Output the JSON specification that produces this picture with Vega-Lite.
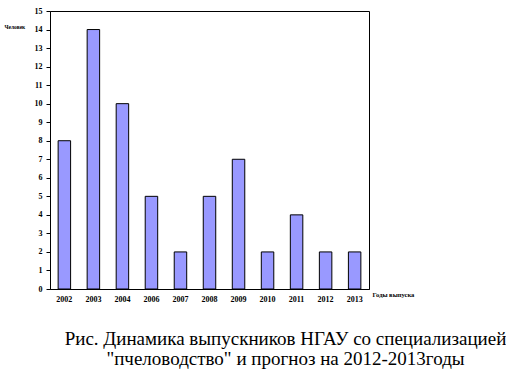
{
  "$schema": "https://vega.github.io/schema/vega-lite/v6.json",
  "autosize": "none",
  "width": 319,
  "height": 278,
  "padding": {"left": 50, "top": 11, "right": 137, "bottom": 103},
  "background": "white",
  "config": {
    "view": {"stroke": "black", "strokeWidth": 1},
    "font": "Liberation Serif"
  },
  "title": {
    "text": ["Рис. Динамика выпускников НГАУ со специализацией", "\"пчеловодство\" и прогноз на 2012-2013годы"],
    "orient": "bottom",
    "anchor": "middle",
    "dx": 76,
    "offset": 27,
    "font": "Liberation Serif",
    "fontSize": 19,
    "fontWeight": "normal",
    "lineHeight": 20,
    "color": "black"
  },
  "data": {
    "values": [
      {"year": "2002", "value": 8},
      {"year": "2003", "value": 14},
      {"year": "2004", "value": 10},
      {"year": "2006", "value": 5},
      {"year": "2007", "value": 2},
      {"year": "2008", "value": 5},
      {"year": "2009", "value": 7},
      {"year": "2010", "value": 2},
      {"year": "2011", "value": 4},
      {"year": "2012", "value": 2},
      {"year": "2013", "value": 2}
    ]
  },
  "mark": {"type": "bar", "fill": "#9999FF", "stroke": "black", "strokeWidth": 1},
  "encoding": {
    "x": {
      "field": "year",
      "type": "nominal",
      "sort": null,
      "scale": {"paddingInner": 0.57, "paddingOuter": 0.28},
      "axis": {
        "title": "Годы выпуска",
        "titleFont": "Liberation Serif",
        "titleFontSize": 6.5,
        "titleFontWeight": "bold",
        "titleAlign": "left",
        "titleBaseline": "middle",
        "titleAnchor": null,
        "titleX": 322,
        "titleY": 5,
        "labelAngle": 0,
        "labelFont": "Liberation Serif",
        "labelFontSize": 8,
        "labelFontWeight": "bold",
        "labelColor": "black",
        "labelPadding": 6,
        "ticks": false,
        "domainColor": "black",
        "titleColor": "black"
      }
    },
    "y": {
      "field": "value",
      "type": "quantitative",
      "scale": {"domain": [0, 15], "nice": false},
      "axis": {
        "title": "Человек",
        "titleFont": "Liberation Serif",
        "titleFontSize": 5.5,
        "titleFontWeight": "bold",
        "titleAngle": 0,
        "titleAlign": "left",
        "titleBaseline": "middle",
        "titleAnchor": null,
        "titleX": -46,
        "titleY": 15,
        "values": [0,1,2,3,4,5,6,7,8,9,10,11,12,13,14,15],
        "grid": false,
        "tickSize": 4,
        "tickColor": "black",
        "domainColor": "black",
        "labelFont": "Liberation Serif",
        "labelFontSize": 8,
        "labelFontWeight": "bold",
        "labelColor": "black",
        "labelPadding": 4,
        "titleColor": "black"
      }
    }
  }
}
